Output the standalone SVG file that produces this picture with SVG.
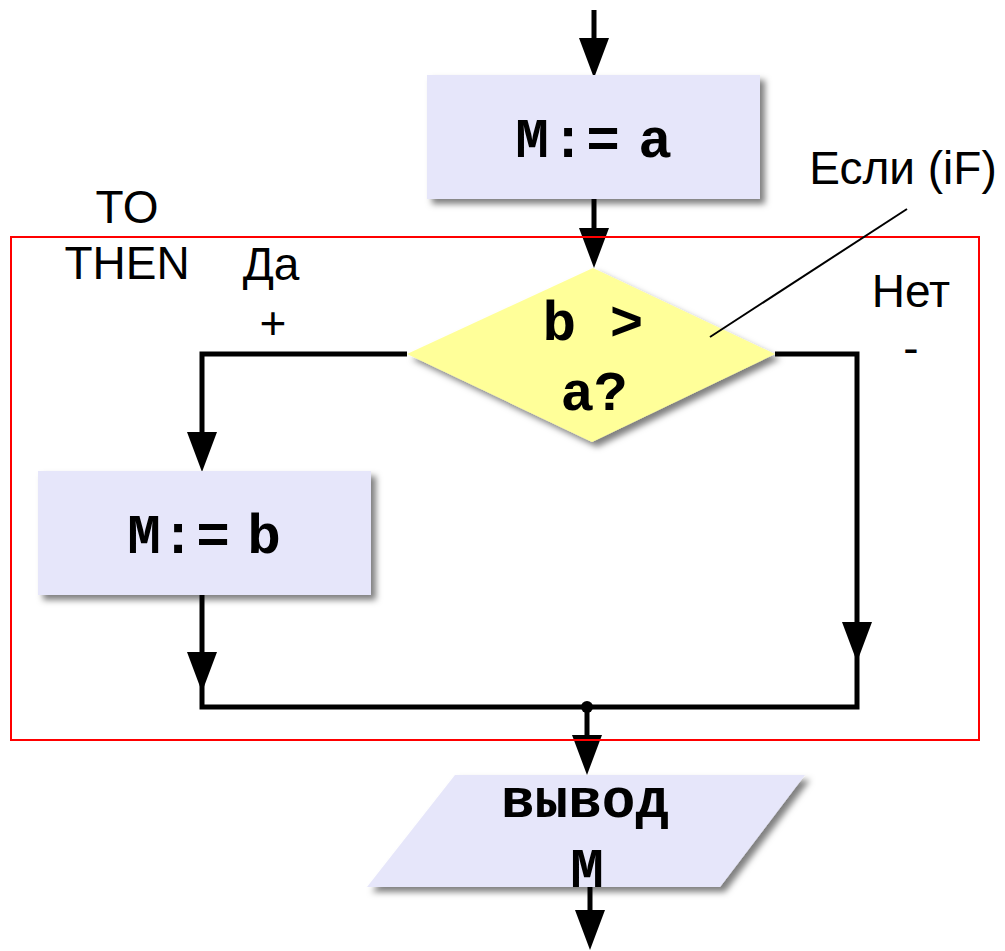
<svg xmlns="http://www.w3.org/2000/svg" width="1005" height="951" viewBox="0 0 1005 951">
<style>
.box{fill:#E6E6FA;filter:url(#sh)}
.dia{fill:#FFFF99;filter:url(#sh)}
.code{font-family:"Courier New","Liberation Mono",monospace;font-weight:bold;font-size:56px;fill:#000;text-anchor:middle}
.lbl{font-family:Arial,"Liberation Sans",sans-serif;font-size:46px;fill:#000;text-anchor:middle}
.ln{fill:none;stroke:#000;stroke-width:5;stroke-linejoin:miter;stroke-linecap:butt}
.thin{fill:none;stroke:#000;stroke-width:2}
.frame{fill:none;stroke:#FF0000;stroke-width:2}
</style>
<defs>
<filter id="sh" x="-10%" y="-10%" width="130%" height="140%">
<feDropShadow dx="5" dy="5" stdDeviation="3" flood-color="#000" flood-opacity="0.5"/>
</filter>
<path id="ah" d="M-15,-40 L15,-40 L0,0 Z" fill="#000"/>
</defs>
<rect width="1005" height="951" fill="#fff"/>

<g id="connectors">
<line class="ln" x1="594" y1="10" x2="594" y2="60"/>
<use href="#ah" x="594" y="78"/>
<line class="ln" x1="594" y1="199" x2="594" y2="250"/>
<use href="#ah" x="594" y="268"/>
<polyline class="ln" points="407,354 202,354 202,455"/>
<use href="#ah" x="202" y="472"/>
<polyline class="ln" points="202,595 202,707 857,707 857,354 775,354"/>
<use href="#ah" x="202" y="692"/>
<use href="#ah" x="857" y="662"/>
<circle cx="587" cy="707" r="6" fill="#000"/>
<line class="ln" x1="587" y1="707" x2="587" y2="760"/>
<use href="#ah" x="587" y="775"/>
<line class="ln" x1="590" y1="887" x2="590" y2="935"/>
<use href="#ah" x="590" y="950"/>
</g>

<g id="node-m-a">
<rect class="box" x="427" y="75" width="333" height="124"/>
<text class="code" y="157"><tspan x="532">M</tspan><tspan x="568">:</tspan><tspan x="603">=</tspan><tspan x="629"> </tspan><tspan x="655">a</tspan></text>
</g>

<g id="node-cond">
<polygon class="dia" points="593,268 775,354 592,442 407,354"/>
<text class="code" x="593" y="340">b &gt;</text>
<text class="code" x="594" y="410">a?</text>
</g>

<g id="node-m-b">
<rect class="box" x="38" y="471" width="333" height="124"/>
<text class="code" y="553"><tspan x="144">M</tspan><tspan x="178">:</tspan><tspan x="213">=</tspan><tspan x="238"> </tspan><tspan x="264">b</tspan></text>
</g>

<g id="node-out">
<polygon class="box" points="455,775 805,775 720,887 367,887"/>
<text class="code" x="585" y="817">вывод</text>
<text class="code" x="587" y="887">M</text>
</g>

<g id="frame">
<rect class="frame" x="11" y="237" width="968" height="503"/>
</g>

<g id="callout">
<line class="thin" x1="710" y1="337" x2="907" y2="209"/>
</g>

<g id="labels">
<text class="lbl" x="903" y="184">Если (iF)</text>
<text class="lbl" x="127" y="223">TO</text>
<text class="lbl" x="127" y="279">THEN</text>
<text class="lbl" x="271" y="280">Да</text>
<text class="lbl" x="273" y="339">+</text>
<text class="lbl" x="911" y="307">Нет</text>
<text class="lbl" x="911" y="364">-</text>
</g>
</svg>
